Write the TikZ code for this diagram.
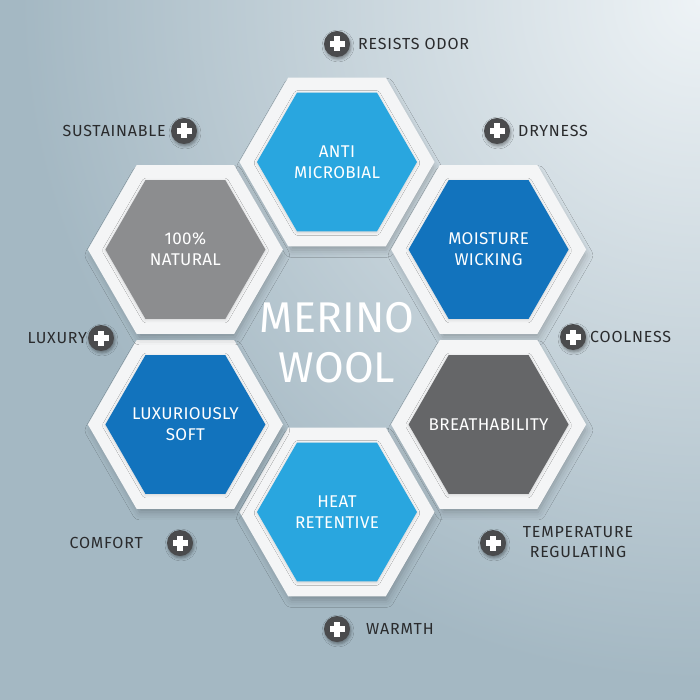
\documentclass[tikz,border=0pt]{standalone}
\usepackage{fontspec}
\setmainfont{Fira Sans}
\usetikzlibrary{shapes.geometric,shadows.blur}
\definecolor{bgbase}{HTML}{A4B8C3}
\definecolor{bglight}{HTML}{EEF3F6}
\definecolor{lblue}{HTML}{29A6DF}
\definecolor{dblue}{HTML}{1273BD}
\definecolor{dgray}{HTML}{656668}
\definecolor{mgray}{HTML}{8C8D8F}
\definecolor{framec}{HTML}{F4F5F6}
\definecolor{iconc}{HTML}{4A4B4D}
\definecolor{labelc}{HTML}{2A2B2D}
\tikzset{
  outerhex/.style={regular polygon, regular polygon sides=6, minimum size=195pt,
    inner sep=0pt, fill=framec, draw=none,
    blur shadow={shadow scale=0.97, shadow xshift=2pt, shadow yshift=-6pt, shadow blur radius=8pt, shadow opacity=25}},
  innerhex/.style={regular polygon, regular polygon sides=6, minimum size=160pt,
    inner sep=0pt, draw=none,
    blur shadow={shadow xshift=0pt, shadow yshift=-1pt, shadow blur radius=3pt, shadow opacity=15}},
  hextext/.style={inner sep=0pt, text=white, align=center,
    font=\fontsize{17}{21}\selectfont\addfontfeatures{LetterSpace=2}},
  plusicon/.style={circle, minimum size=26pt, inner sep=0pt, fill=iconc,
    blur shadow={shadow xshift=1pt, shadow yshift=-2pt, shadow blur radius=3pt, shadow opacity=40},
    path picture={
      \fill[white] ([xshift=-7.5pt,yshift=-2.6pt]path picture bounding box.center) rectangle ++(15pt,5.2pt);
      \fill[white] ([xshift=-2.6pt,yshift=-7.5pt]path picture bounding box.center) rectangle ++(5.2pt,15pt);
    }},
  lbl/.style={inner sep=0pt, text=labelc, font=\fontsize{16}{20}\selectfont\addfontfeatures{LetterSpace=5}, align=center},
}
\begin{document}
\begin{tikzpicture}[x=1pt,y=-1pt]
% background
\fill[bgbase] (0,0) rectangle (700,700);
\begin{scope}
\clip (0,0) rectangle (700,700);
\shade[inner color=bglight, outer color=bgbase] (700,0) circle (680);
\end{scope}
\useasboundingbox (0,0) rectangle (700,700);

% hexagons
\node[outerhex] (o1) at (337,162) {};
\node[innerhex, fill=lblue] (h1) at (o1) {};
\node[hextext] (t1) at (h1) {ANTI\\MICROBIAL};

\node[outerhex] (o2) at (488.6,249.5) {};
\node[innerhex, fill=dblue] (h2) at (o2) {};
\node[hextext] (t2) at (h2) {MOISTURE\\WICKING};

\node[outerhex] (o3) at (488.6,424.5) {};
\node[innerhex, fill=dgray] (h3) at (o3) {};
\node[hextext] (t3) at (h3) {BREATHABILITY};

\node[outerhex] (o4) at (337,512) {};
\node[innerhex, fill=lblue] (h4) at (o4) {};
\node[hextext] (t4) at (h4) {HEAT\\RETENTIVE};

\node[outerhex] (o5) at (185.4,424.5) {};
\node[innerhex, fill=dblue] (h5) at (o5) {};
\node[hextext] (t5) at (h5) {LUXURIOUSLY\\SOFT};

\node[outerhex] (o6) at (185.4,249.5) {};
\node[innerhex, fill=mgray] (h6) at (o6) {};
\node[hextext] (t6) at (h6) {100\%\\NATURAL};

% title
\node[inner sep=0pt, text=white, align=center, font=\fontsize{43}{50}\selectfont] (title) at (337,343) {MERINO\\WOOL};

% labels with icons
\node[plusicon] (p1) at (337,44) {};
\node[lbl, anchor=west] (l1) at (358,44) {RESISTS ODOR};

\node[plusicon] (p2) at (184,131) {};
\node[lbl, anchor=east] (l2) at (166,131) {SUSTAINABLE};

\node[plusicon] (p3) at (497,131) {};
\node[lbl, anchor=west] (l3) at (518,131) {DRYNESS};

\node[plusicon] (p4) at (101,338) {};
\node[lbl, anchor=east] (l4) at (87,338) {LUXURY};

\node[plusicon] (p5) at (573,337) {};
\node[lbl, anchor=west] (l5) at (590,337) {COOLNESS};

\node[plusicon] (p6) at (180,543) {};
\node[lbl, anchor=east] (l6) at (143,543) {COMFORT};

\node[plusicon] (p7) at (493,543) {};
\node[lbl] (l7) at (578,542) {TEMPERATURE\\REGULATING};

\node[plusicon] (p8) at (337,629) {};
\node[lbl, anchor=west] (l8) at (366,629) {WARMTH};
\end{tikzpicture}
\end{document}
